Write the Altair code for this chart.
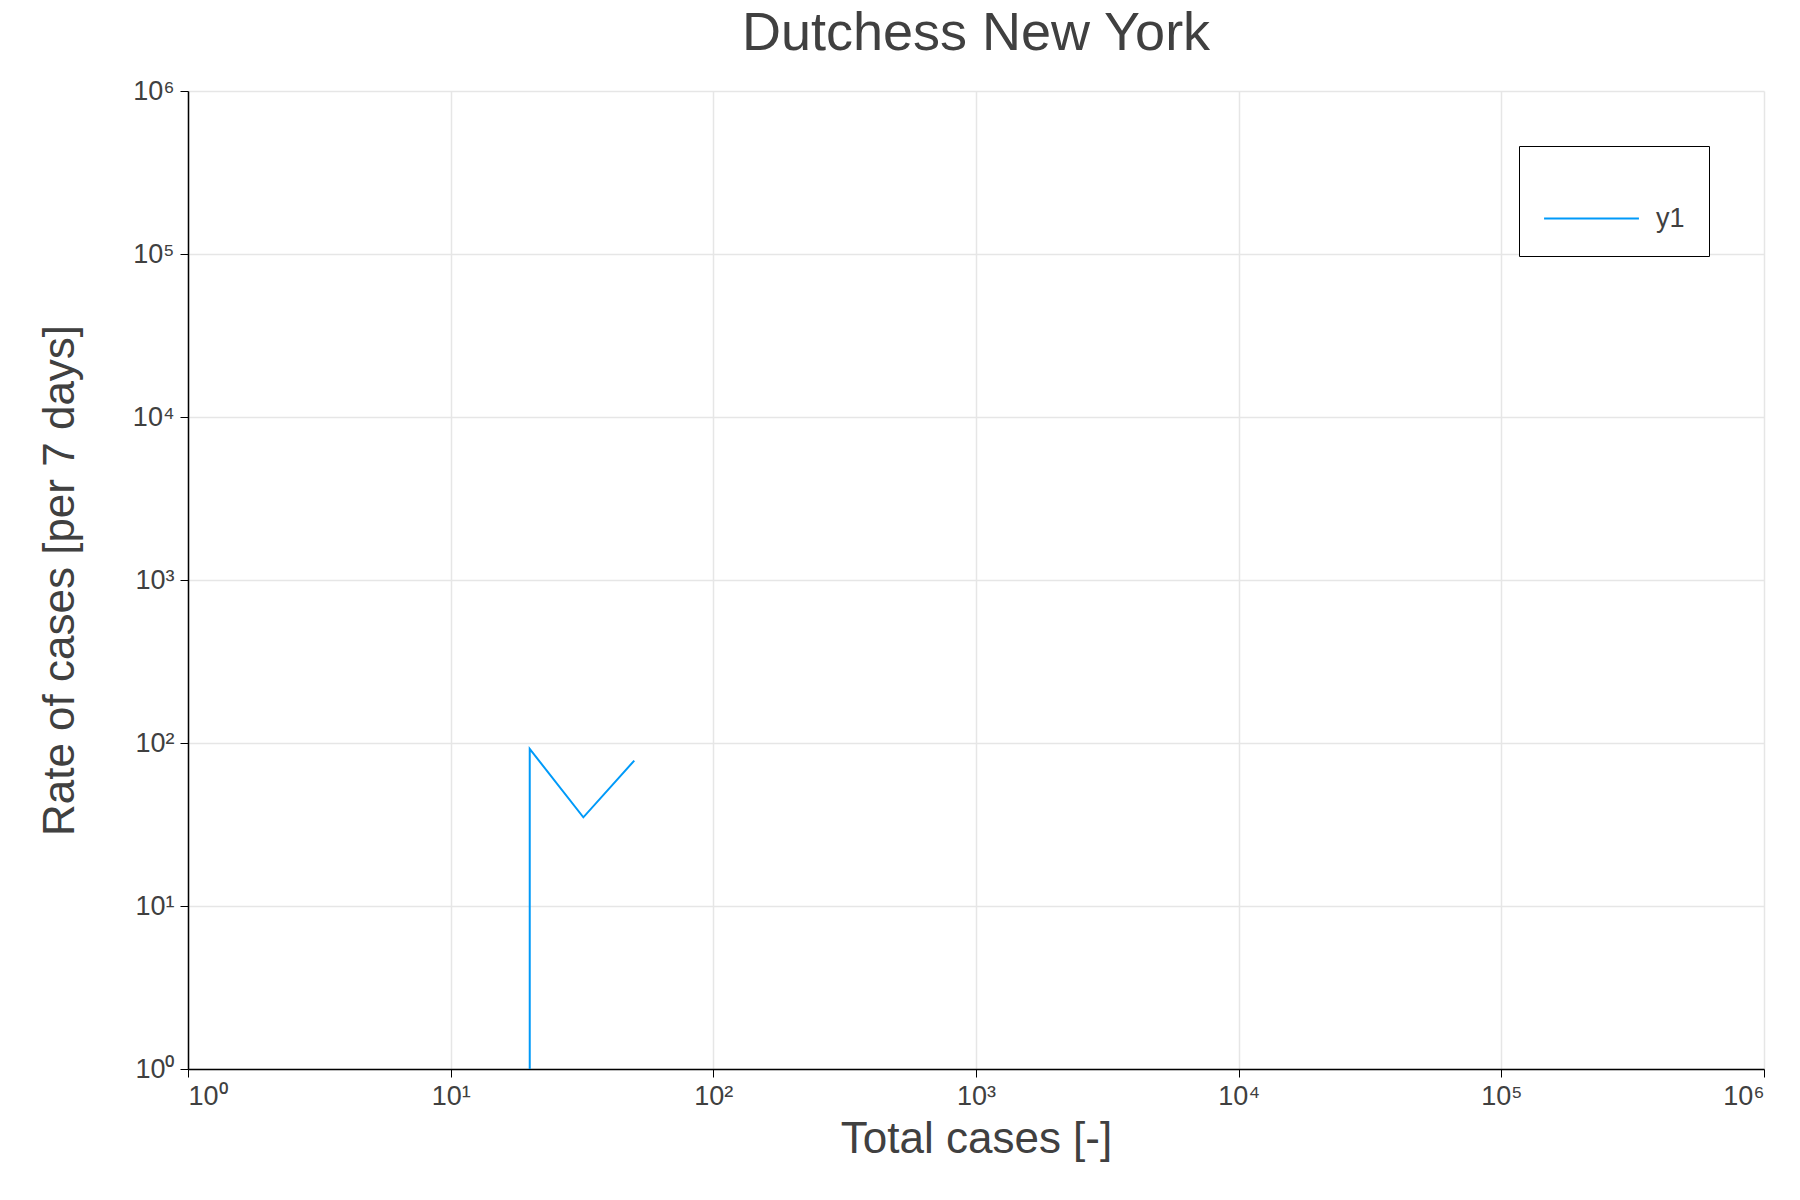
import pandas as pd
import altair as alt

total_cases = [20, 20, 32, 50]
rate_cases = [1, 92, 35, 78]
series = ["y1", "y1", "y1", "y1"]
tick_values = [1, 10, 100, 1000, 10000, 100000, 1000000]

df = pd.DataFrame({"total": total_cases, "rate": rate_cases, "series": series})

label_expr = "'10' + ['⁰','¹','²','³','⁴','⁵','⁶'][round(log(datum.value)/log(10))]"

axis_common = dict(
    values=tick_values,
    labelExpr=label_expr,
    labelFont="Liberation Sans",
    labelFontSize=27,
    labelColor="#404040",
    titleFont="Liberation Sans",
    titleFontSize=44,
    titleFontWeight="normal",
    titleColor="#404040",
    gridColor="#e6e6e6",
    gridWidth=1.5,
    domainColor="black",
    domainWidth=1.5,
    tickColor="black",
    tickSize=8,
)

chart = (
    alt.Chart(df)
    .mark_line(color="#009af9", strokeWidth=2, clip=True)
    .encode(
        x=alt.X("total:Q", title="Total cases [-]",
                scale=alt.Scale(type="log", domain=[1, 1000000], nice=False),
                axis=alt.Axis(**axis_common, labelPadding=6, titlePadding=8)),
        y=alt.Y("rate:Q", title="Rate of cases [per 7 days]",
                scale=alt.Scale(type="log", domain=[1, 1000000], nice=False),
                axis=alt.Axis(**axis_common, labelPadding=6, titlePadding=50)),
        color=alt.Color("series:N", scale=alt.Scale(range=["#009af9"]),
                        legend=alt.Legend(title=None, orient="top-right", offset=55,
                                          strokeColor="black", padding=24,
                                          symbolType="stroke", symbolSize=9000,
                                          symbolStrokeWidth=2, labelOffset=16,
                                          labelFont="Liberation Sans", labelFontSize=27,
                                          labelColor="#404040", fillColor="white")),
    )
    .properties(
        width=1576, height=978,
        title=alt.TitleParams("Dutchess New York", font="Liberation Sans", fontSize=54,
                              fontWeight="normal", color="#404040", offset=16),
        autosize=alt.AutoSizeParams(type="none"),
        padding={"left": 180, "top": 83, "right": 20, "bottom": 100},
    )
    .configure_view(stroke=None)
)

chart.save("out.html", embed_options={"renderer": "svg", "actions": False})
